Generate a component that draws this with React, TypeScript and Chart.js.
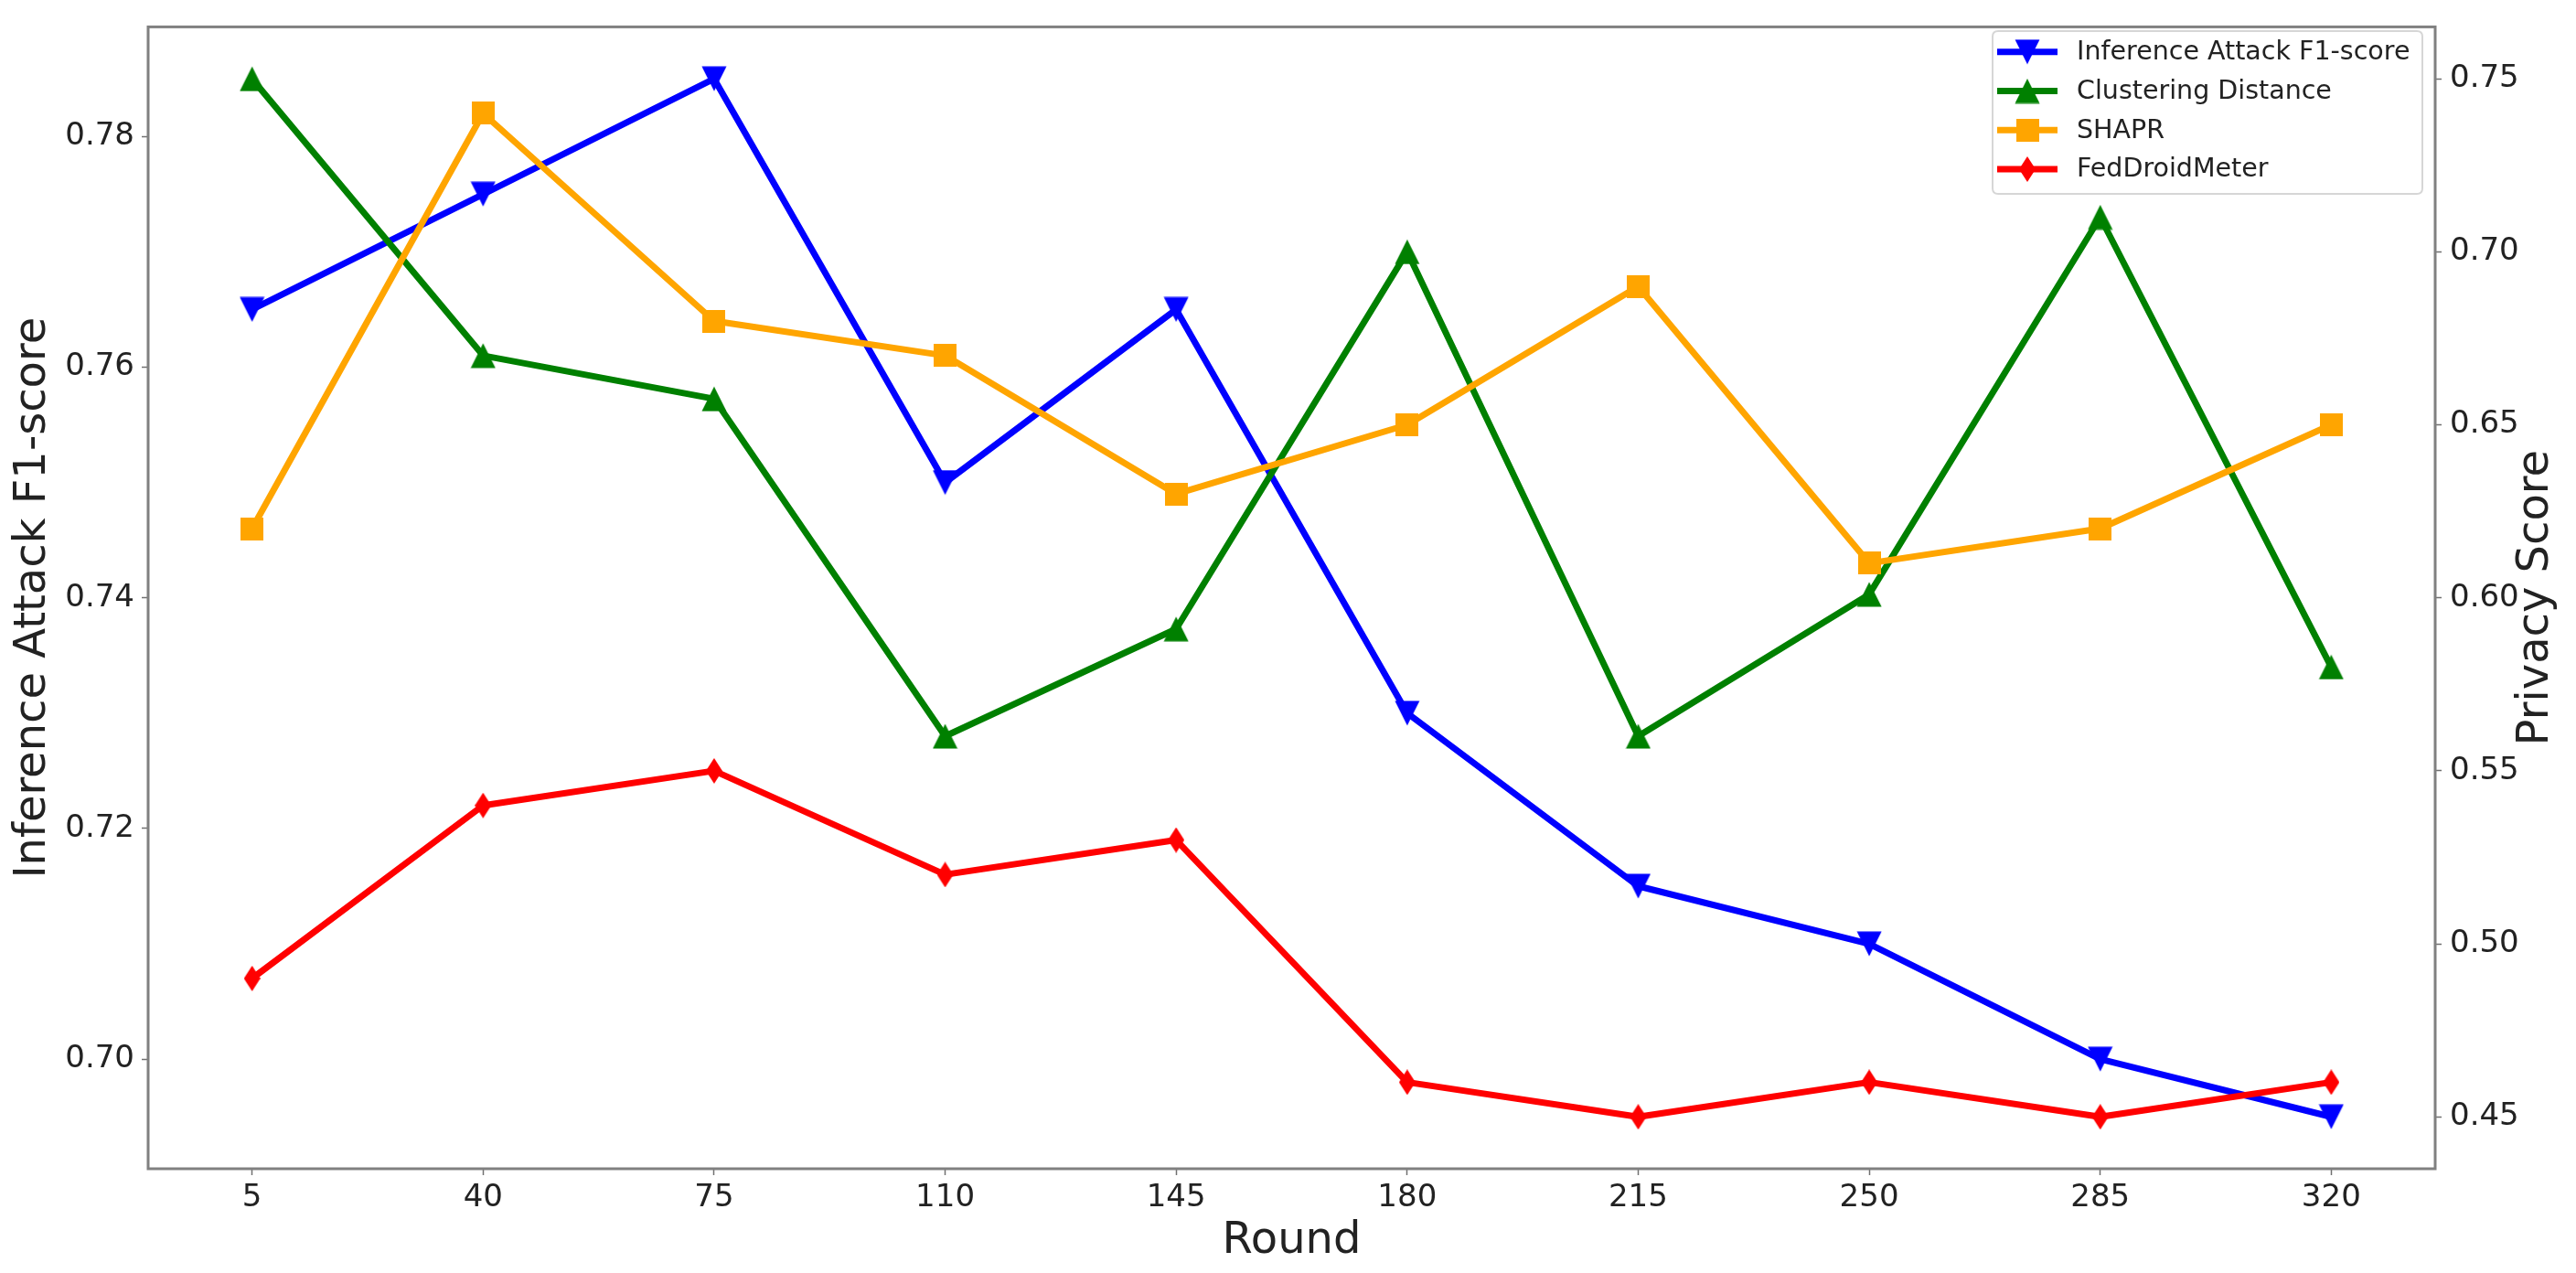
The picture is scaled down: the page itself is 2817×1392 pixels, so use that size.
import React, { useEffect, useRef } from 'react';
import { Chart, registerables } from 'chart.js';

Chart.register(...registerables);

// ---- Data ----
const rounds = ['5', '40', '75', '110', '145', '180', '215', '250', '285', '320'];
const inferenceF1 = [0.765, 0.775, 0.785, 0.75, 0.765, 0.73, 0.715, 0.71, 0.7, 0.695];
const clusteringDistance = [0.75, 0.67, 0.6575, 0.56, 0.591, 0.7, 0.56, 0.601, 0.71, 0.58];
const shapr = [0.62, 0.74, 0.68, 0.67, 0.63, 0.65, 0.69, 0.61, 0.62, 0.65];
const fedDroidMeter = [0.49, 0.54, 0.55, 0.52, 0.53, 0.46, 0.45, 0.46, 0.45, 0.46];
const leftTicks = [0.7, 0.72, 0.74, 0.76, 0.78];
const rightTicks = [0.45, 0.5, 0.55, 0.6, 0.65, 0.7, 0.75];
const seriesNames = ['Inference Attack F1-score', 'Clustering Distance', 'SHAPR', 'FedDroidMeter'];
const seriesColors = ['#0000ff', '#008000', '#ffa500', '#ff0000'];
const seriesMarkers = ['v', '^', 's', 'd'];
const xTitle = 'Round';
const leftTitle = 'Inference Attack F1-score';
const rightTitle = 'Privacy Score';

const FONT = "'DejaVu Sans', 'Liberation Sans', sans-serif";
const TEXT = '#222222';
const FRAME = '#808080';

function makeMarker(kind: string, color: string): HTMLCanvasElement {
  const c = document.createElement('canvas');
  let w = 28;
  let h = 28;
  if (kind === 'd') { w = 18; h = 28; }
  if (kind === 's') { w = 25; h = 25; }
  c.width = w;
  c.height = h;
  const g = c.getContext('2d')!;
  g.fillStyle = color;
  g.beginPath();
  if (kind === '^') {
    g.moveTo(w / 2, 0.5); g.lineTo(w - 0.5, h - 0.5); g.lineTo(0.5, h - 0.5);
  } else if (kind === 'v') {
    g.moveTo(0.5, 0.5); g.lineTo(w - 0.5, 0.5); g.lineTo(w / 2, h - 0.5);
  } else if (kind === 's') {
    g.rect(0, 0, w, h);
  } else {
    g.moveTo(w / 2, 0); g.lineTo(w, h / 2); g.lineTo(w / 2, h); g.lineTo(0, h / 2);
  }
  g.closePath();
  g.fill();
  return c;
}

export default function App() {
  const ref = useRef<HTMLCanvasElement | null>(null);

  useEffect(() => {
    if (!ref.current) return;
    const markers = seriesMarkers.map((m, i) => makeMarker(m, seriesColors[i]));
    const values = [inferenceF1, clusteringDistance, shapr, fedDroidMeter];
    const axes = ['y', 'y1', 'y1', 'y1'];

    const datasets = seriesNames.map((name, i) => ({
      label: name,
      data: values[i].map((v, j) => ({ x: j, y: v })),
      yAxisID: axes[i],
      borderColor: seriesColors[i],
      backgroundColor: seriesColors[i],
      borderWidth: 7,
      borderJoinStyle: 'round' as const,
      borderCapStyle: 'butt' as const,
      tension: 0,
      fill: false,
      pointStyle: markers[i] as any,
      pointRadius: 12,
      pointHoverRadius: 12,
      pointBorderWidth: 0,
      order: 4 - i,
    }));

    const framePlugin = {
      id: 'frame',
      afterDatasetsDraw(chart: any) {
        const { ctx, chartArea } = chart;
        ctx.save();
        ctx.strokeStyle = FRAME;
        ctx.lineWidth = 3;
        ctx.strokeRect(chartArea.left, chartArea.top, chartArea.right - chartArea.left, chartArea.bottom - chartArea.top);
        ctx.restore();
      },
    };

    const extrasPlugin = {
      id: 'extras',
      afterDraw(chart: any) {
        const { ctx, chartArea } = chart;
        // right axis title, reading bottom-to-top
        ctx.save();
        ctx.translate(2774, (chartArea.top + chartArea.bottom) / 2);
        ctx.rotate(-Math.PI / 2);
        ctx.font = `48px ${FONT}`;
        ctx.fillStyle = TEXT;
        ctx.textAlign = 'center';
        ctx.textBaseline = 'middle';
        ctx.fillText(rightTitle, 0, 0);
        ctx.restore();

        // legend
        const bx = 2179, by = 34, bw = 470, bh = 178, r = 6;
        ctx.save();
        ctx.beginPath();
        ctx.moveTo(bx + r, by);
        ctx.lineTo(bx + bw - r, by);
        ctx.quadraticCurveTo(bx + bw, by, bx + bw, by + r);
        ctx.lineTo(bx + bw, by + bh - r);
        ctx.quadraticCurveTo(bx + bw, by + bh, bx + bw - r, by + bh);
        ctx.lineTo(bx + r, by + bh);
        ctx.quadraticCurveTo(bx, by + bh, bx, by + bh - r);
        ctx.lineTo(bx, by + r);
        ctx.quadraticCurveTo(bx, by, bx + r, by);
        ctx.closePath();
        ctx.fillStyle = 'rgba(255,255,255,0.8)';
        ctx.fill();
        ctx.strokeStyle = 'rgba(204,204,204,0.8)';
        ctx.lineWidth = 2;
        ctx.stroke();
        const rowsY = [56.7, 99.5, 142.2, 185];
        seriesNames.forEach((name, i) => {
          const y = rowsY[i];
          ctx.strokeStyle = seriesColors[i];
          ctx.lineWidth = 7;
          ctx.lineCap = 'butt';
          ctx.beginPath();
          ctx.moveTo(2184, y);
          ctx.lineTo(2250, y);
          ctx.stroke();
          const m = markers[i];
          ctx.drawImage(m, 2217 - m.width / 2, y - m.height / 2);
          ctx.font = `28.5px ${FONT}`;
          ctx.fillStyle = TEXT;
          ctx.textAlign = 'left';
          ctx.textBaseline = 'middle';
          ctx.fillText(name, 2271, y + 1);
        });
        ctx.restore();
      },
    };

    const gridOpts = {
      display: true,
      drawOnChartArea: false,
      drawTicks: true,
      tickLength: 7,
      tickColor: '#707070',
      tickWidth: 1.5,
    };

    const chart = new Chart(ref.current, {
      type: 'line',
      data: { datasets: datasets as any },
      options: {
        responsive: false,
        animation: false,
        devicePixelRatio: 1,
        layout: { padding: { top: 21, left: 0, right: 0, bottom: 0 } },
        plugins: { legend: { display: false }, tooltip: { enabled: false } },
        events: [],
        scales: {
          x: {
            type: 'linear',
            min: -0.45,
            max: 9.45,
            afterBuildTicks: (s: any) => { s.ticks = rounds.map((_, i) => ({ value: i })); },
            afterFit: (s: any) => { s.height = 114; },
            ticks: {
              callback: (v: any) => rounds[Math.round(Number(v))],
              font: { family: FONT, size: 34 },
              color: TEXT,
              padding: 5,
              maxRotation: 0,
              autoSkip: false,
            },
            grid: gridOpts,
            border: { display: false },
            title: {
              display: true,
              text: xTitle,
              font: { family: FONT, size: 48 },
              color: TEXT,
              padding: { top: 0, bottom: 6 },
            },
          },
          y: {
            type: 'linear',
            position: 'left',
            min: 0.6905,
            max: 0.7895,
            afterBuildTicks: (s: any) => { s.ticks = leftTicks.map((v) => ({ value: v })); },
            afterFit: (s: any) => { s.width = 162; },
            ticks: {
              callback: (v: any) => Number(v).toFixed(2),
              font: { family: FONT, size: 34 },
              color: TEXT,
              padding: 8,
            },
            grid: gridOpts,
            border: { display: false },
            title: {
              display: true,
              text: leftTitle,
              font: { family: FONT, size: 48 },
              color: TEXT,
              padding: { top: 8, bottom: 0 },
            },
          },
          y1: {
            type: 'linear',
            position: 'right',
            min: 0.435,
            max: 0.765,
            afterBuildTicks: (s: any) => { s.ticks = rightTicks.map((v) => ({ value: v })); },
            afterFit: (s: any) => { s.width = 154; },
            ticks: {
              callback: (v: any) => Number(v).toFixed(2),
              font: { family: FONT, size: 34 },
              color: TEXT,
              padding: 9,
            },
            grid: gridOpts,
            border: { display: false },
          },
        },
      },
      plugins: [framePlugin, extrasPlugin],
    } as any);

    return () => chart.destroy();
  }, []);

  return (
    <div style={{ position: 'fixed', left: 0, top: 0, width: 2817, height: 1392, background: '#ffffff' }}>
      <canvas ref={ref} width={2817} height={1392} style={{ display: 'block' }} />
    </div>
  );
}
